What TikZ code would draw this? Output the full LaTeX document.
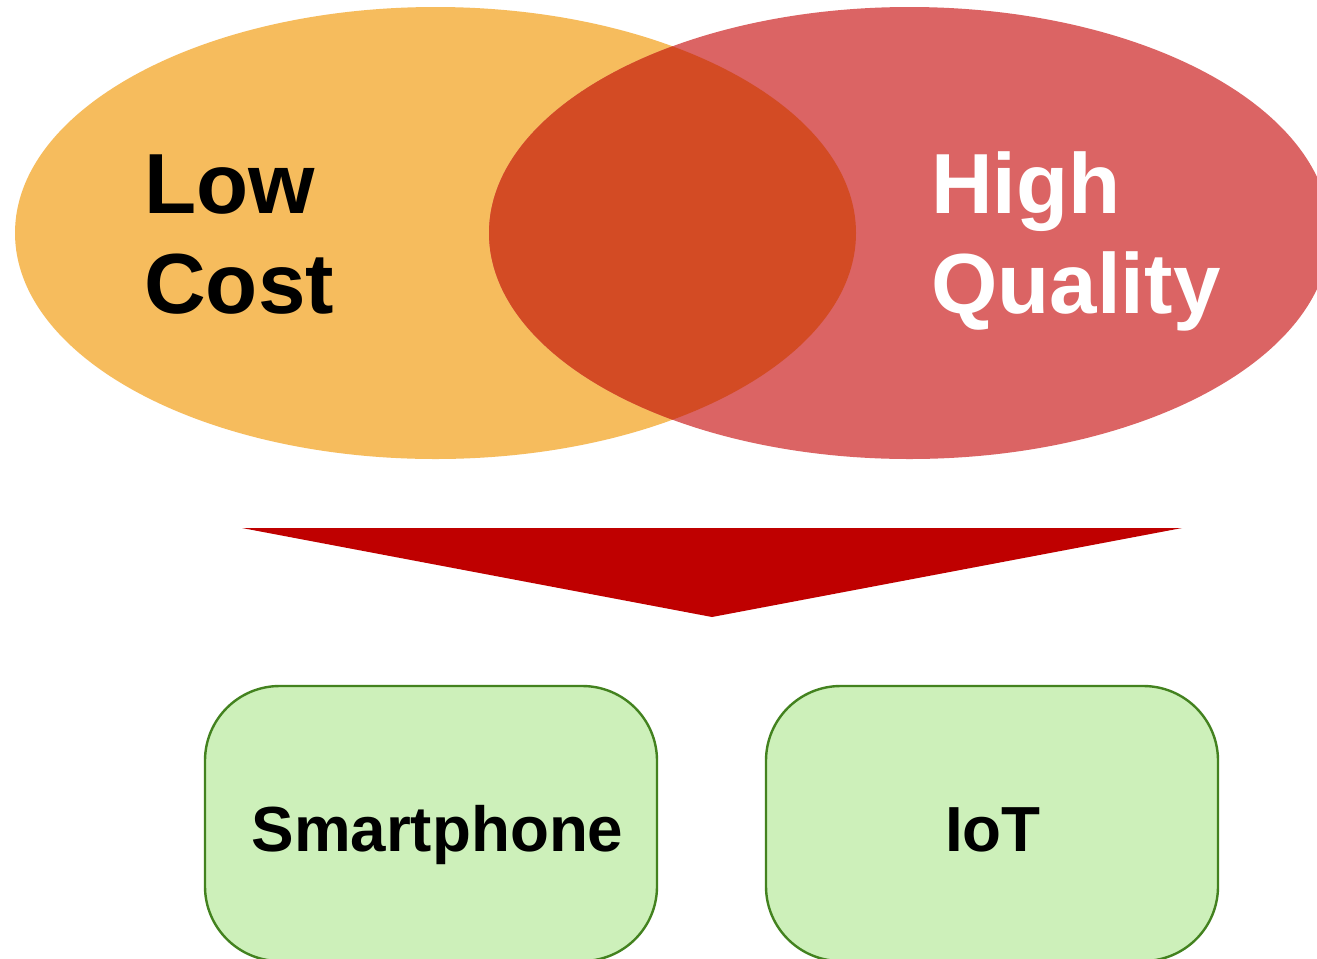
\documentclass[tikz,border=0pt]{standalone}
\usepackage{fontspec}
\setmainfont{Liberation Sans}
\definecolor{lowc}{HTML}{F6BC5D}
\definecolor{highc}{HTML}{DB6464}
\definecolor{overc}{HTML}{D34B24}
\definecolor{arrowc}{HTML}{BF0000}
\definecolor{boxfill}{HTML}{CDF0BA}
\definecolor{boxline}{HTML}{43821F}
\begin{document}
\begin{tikzpicture}[x=0.75pt,y=-0.75pt,
  ell/.style={x radius=315.375pt, y radius=169.5pt},
  bigtxt/.style={inner sep=0pt, align=left, font=\fontsize{64}{75}\selectfont\bfseries},
  box/.style={draw=boxline, fill=boxfill, line width=1.8pt, rounded corners=56pt,
    minimum width=339pt, minimum height=206.25pt, inner sep=0pt},
  lbl/.style={inner sep=0pt, font=\fontsize{47.8}{56}\selectfont\bfseries}]
\clip (0,0) rectangle (1317,958);
\fill[white] (0,0) rectangle (1317,958);
% Venn ellipses
\fill[lowc] (435.5,233) ellipse [ell];
\fill[highc] (909.5,233) ellipse [ell];
\begin{scope}
  \clip (435.5,233) ellipse [ell];
  \fill[overc] (909.5,233) ellipse [ell];
\end{scope}
\node[bigtxt, anchor=base west] (low) at (144,313) {Low\\Cost};
\node[bigtxt, anchor=base west, text=white] (high) at (931,313) {High\\Quality};
% arrow
\fill[arrowc] (242,528) -- (1182,528) -- (712,617) -- cycle;
% boxes
\node[box] (sp) at (431,823.5) {};
\node[box] (iot) at (992,823.5) {};
\node[lbl, anchor=base] (spt) at (437.5,851) {Smartphone};
\node[lbl, anchor=base] (iott) at (993,851) {IoT};
\end{tikzpicture}
\end{document}
